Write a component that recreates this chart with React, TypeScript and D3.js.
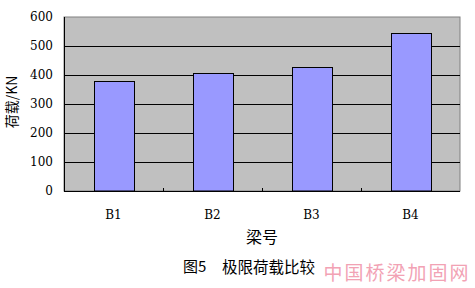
import React from "react";
import * as d3 from "d3";

const categories = ["B1", "B2", "B3", "B4"];
const loads = [379, 407, 427, 544];
const yTicks = [0, 100, 200, 300, 400, 500, 600];

const W = 475;
const H = 288;
const plot = { left: 64, top: 17, right: 460, bottom: 191 };

export default function App() {
  const x = d3
    .scaleBand<string>()
    .domain(categories)
    .range([plot.left, plot.right])
    .paddingInner(0)
    .paddingOuter(0);
  const y = d3.scaleLinear().domain([0, 600]).range([plot.bottom, plot.top]);
  const barW = x.bandwidth() * 0.404;
  const serif = "'DejaVu Serif', 'Liberation Serif', serif";
  const cjk = "'Noto Sans CJK SC', sans-serif";

  return (
    <svg
      width={W}
      height={H}
      style={{ position: "absolute", left: 0, top: 0, background: "#fff" }}
    >
      <rect x={0} y={0} width={W} height={H} fill="#fff" />
      {/* plot area */}
      <rect
        x={plot.left}
        y={plot.top}
        width={plot.right - plot.left}
        height={plot.bottom - plot.top}
        fill="#C0C0C0"
        stroke="#808080"
        strokeWidth={1}
      />
      {/* gridlines */}
      {yTicks.slice(1, -1).map((t) => (
        <line
          key={t}
          x1={plot.left}
          x2={plot.right}
          y1={Math.round(y(t)) + 0.5}
          y2={Math.round(y(t)) + 0.5}
          stroke="#000"
          strokeWidth={1}
        />
      ))}
      {/* bars */}
      {categories.map((c, i) => {
        const cx = (x(c) as number) + x.bandwidth() / 2;
        const top = Math.round(y(loads[i])) + 0.5;
        return (
          <rect
            key={c}
            x={Math.round(cx - barW / 2) + 0.5}
            y={top}
            width={Math.round(barW)}
            height={plot.bottom - top}
            fill="#9999FF"
            stroke="#000"
            strokeWidth={1}
          />
        );
      })}
      {/* axes */}
      <line x1={plot.left + 0.5} x2={plot.left + 0.5} y1={plot.top} y2={plot.bottom} stroke="#000" />
      <line x1={plot.left} x2={plot.right} y1={plot.bottom + 0.5} y2={plot.bottom + 0.5} stroke="#000" />
      {categories.slice(1).map((c) => {
        const tx = Math.round(x(c) as number) + 0.5;
        return <line key={c} x1={tx} x2={tx} y1={plot.bottom - 3} y2={plot.bottom} stroke="#000" />;
      })}
      {/* y tick labels */}
      {yTicks.map((t) => (
        <text
          key={t}
          x={53}
          y={y(t)}
          dy="0.36em"
          textAnchor="end"
          fontFamily={serif}
          fontSize={12}
          fill="#000"
        >
          {t}
        </text>
      ))}
      {/* x tick labels */}
      {categories.map((c) => (
        <text
          key={c}
          x={(x(c) as number) + x.bandwidth() / 2}
          y={215}
          dy="0.36em"
          textAnchor="middle"
          fontFamily={serif}
          fontSize={12}
          fill="#000"
        >
          {c}
        </text>
      ))}
      {/* axis titles */}
      <text x={262} y={237} dy="0.36em" textAnchor="middle" fontFamily={cjk} fontSize={16} fill="#000">
        梁号
      </text>
      <text
        transform="translate(12,102) rotate(-90)"
        dy="0.36em"
        textAnchor="middle"
        fontFamily={cjk}
        fontSize={14}
        fill="#000"
      >
        荷载/KN
      </text>
      <text x={183} y={267} dy="0.36em" fontFamily={cjk} fontSize={15} fill="#000">
        图5
      </text>
      <text x={222} y={267} dy="0.36em" fontFamily={cjk} fontSize={15.5} fill="#000">
        极限荷载比较
      </text>
      {/* site mark */}
      <text
        x={397}
        y={273}
        dy="0.36em"
        textAnchor="middle"
        fontFamily={cjk}
        fontSize={19}
        letterSpacing={2}
        fill="#F2A2B4"
      >
        中国桥梁加固网
      </text>
    </svg>
  );
}
